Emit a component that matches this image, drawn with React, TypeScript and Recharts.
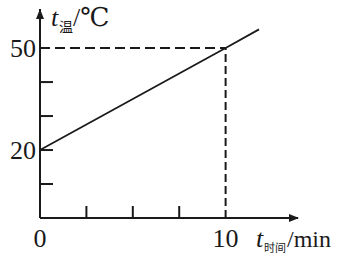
import React from 'react';
import { LineChart, Line, XAxis, YAxis, ReferenceLine, ReferenceDot } from 'recharts';

// time (min) vs temperature (°C)
const times = [0, 10, 11.8];
const temps = [20, 50, 55.5];
const xTicks = [0, 2.5, 5, 7.5, 10];
const yTicks = [10, 20, 30, 40, 50];
const xLabels = [0, 10];
const yLabels = [20, 50];
const xMax = 13.9;
const yMax = 61.5;

const data = times.map((t, i) => ({ t, temp: temps[i] }));

const INK = '#1a1a1a';
const SERIF = '"Liberation Serif", "DejaVu Serif", serif';
const CJK = '"Noto Sans CJK SC", sans-serif';

const XTick = (props: any) => {
  const { x, y, payload } = props;
  const v = payload.value;
  return (
    <g>
      {v > 0 && v < 10 && <line x1={x} y1={y} x2={x} y2={y - 12} stroke={INK} strokeWidth={2} />}
      {xLabels.includes(v) && (
        <text x={x} y={y + 29} textAnchor="middle" fontFamily={SERIF} fontSize={26} fill={INK}>
          {v}
        </text>
      )}
    </g>
  );
};

const YTick = (props: any) => {
  const { x, y, payload } = props;
  const v = payload.value;
  return (
    <g>
      {v < 50 && <line x1={x} y1={y} x2={x + 13} y2={y} stroke={INK} strokeWidth={2} />}
      {yLabels.includes(v) && (
        <text x={x - 4} y={y + 9} textAnchor="end" fontFamily={SERIF} fontSize={26} fill={INK}>
          {v}
        </text>
      )}
    </g>
  );
};

// arrowhead at the top of the vertical axis
const UpArrow = (props: any) => {
  const { cx, cy } = props;
  return <path d={`M${cx},${cy} L${cx - 4},${cy + 10} L${cx + 4},${cy + 10} Z`} fill={INK} />;
};

export default function App() {
  return (
    <div style={{ position: 'absolute', left: 0, top: 0, background: '#fff' }}>
      <LineChart width={352} height={257} data={data} margin={{ top: 9, right: 54, bottom: 9, left: 0 }}>
        <defs>
          <marker id="arrow" viewBox="0 0 10 8" refX="9" refY="4" markerWidth="10" markerHeight="8"
            markerUnits="userSpaceOnUse" orient="auto">
            <path d="M0,0 L10,4 L0,8 Z" fill={INK} />
          </marker>
        </defs>
        <XAxis type="number" dataKey="t" domain={[0, xMax]} ticks={xTicks} interval={0}
          height={30} tickSize={0} tickMargin={0} tickLine={false}
          axisLine={{ stroke: INK, strokeWidth: 2, markerEnd: 'url(#arrow)' }} tick={<XTick />} />
        <YAxis type="number" domain={[0, yMax]} ticks={yTicks} interval={0}
          width={40} tickSize={0} tickMargin={0} tickLine={false}
          axisLine={{ stroke: INK, strokeWidth: 2 }} tick={<YTick />} />
        <ReferenceLine segment={[{ x: 0, y: 50 }, { x: 10, y: 50 }]} stroke={INK} strokeWidth={2} strokeDasharray="10 5" />
        <ReferenceLine segment={[{ x: 10, y: 0 }, { x: 10, y: 50 }]} stroke={INK} strokeWidth={2} strokeDasharray="8 4" />
        <ReferenceDot x={0} y={yMax} r={4} ifOverflow="visible" shape={UpArrow} />
        <Line type="linear" dataKey="temp" stroke={INK} strokeWidth={1.8} dot={false} isAnimationActive={false} />
        <text x={51} y={26} fontFamily={SERIF} fontSize={26} fontStyle="italic" fill={INK}>t</text>
        <text x={59} y={32} fontFamily={CJK} fontSize={14} fill={INK}>温</text>
        <text x={73} y={26} fontFamily={SERIF} fontSize={26} fill={INK}>/℃</text>
        <text x={256} y={247} fontFamily={SERIF} fontSize={26} fontStyle="italic" fill={INK}>t</text>
        <text x={264} y={252} fontFamily={CJK} fontSize={11} fill={INK}>时间</text>
        <text x={287} y={247} fontFamily={SERIF} fontSize={24} fill={INK}>/min</text>
      </LineChart>
    </div>
  );
}
